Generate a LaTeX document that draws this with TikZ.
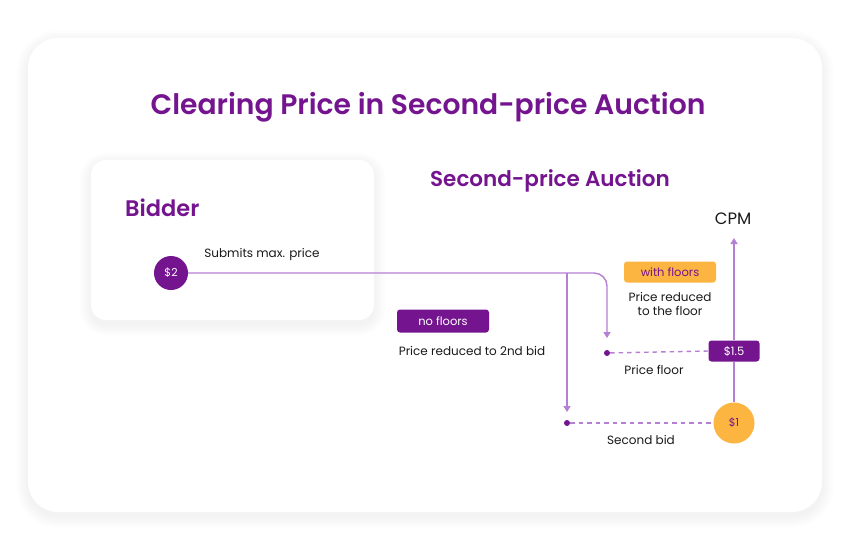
\documentclass[tikz,border=0pt]{standalone}
\usepackage{fontspec}
\setmainfont{Poppins}[BoldFont={Poppins SemiBold}]
\usetikzlibrary{arrows.meta}
\definecolor{pur}{HTML}{74148F}
\definecolor{lpur}{HTML}{B57FD3}
\definecolor{org}{HTML}{FBB540}
\definecolor{txt}{HTML}{1A1A1A}
\tikzset{
  lbl/.style={text=txt,font=\fontsize{12}{14.5}\selectfont,align=center,inner sep=0pt},
  conn/.style={draw=lpur,line width=1.4pt},
  dashln/.style={draw=lpur,line width=1.4pt,dash pattern=on 4.5pt off 4pt},
  tipend/.style={-{Triangle[length=6pt,width=7pt]}},
  dotn/.style={circle,fill=pur,inner sep=0pt,minimum size=6pt},
  pbox/.style={fill=pur,text=white,rounded corners=3pt,inner sep=0pt,font=\fontsize{11.5}{13}\selectfont},
  obox/.style={fill=org,text=pur,rounded corners=3pt,inner sep=0pt,font=\fontsize{11.5}{13}\selectfont},
}
\newcommand{\softcard}[5]{%
  \foreach \k in {1,...,12}{\fill[black,opacity=0.005,rounded corners=#5+\k] ({#1-\k},{#2-\k+4}) rectangle ({#3+\k},{#4+\k+4});}
  \fill[white,rounded corners=#5] (#1,#2) rectangle (#3,#4);}
\begin{document}
\begin{tikzpicture}[x=1pt,y=-1pt]
\useasboundingbox (0,0) rectangle (850,550);
\fill[white] (0,0) rectangle (850,550);
\softcard{28}{38}{822}{512}{30pt}
\node[text=pur,font=\fontsize{28.2}{32}\selectfont\bfseries] (title) at (428,107) {Clearing Price in Second-price Auction};
\softcard{91}{160}{374}{320}{15pt}
\node[text=pur,font=\fontsize{22.5}{27}\selectfont\bfseries,anchor=west,inner sep=0pt] (bidder) at (125,208) {Bidder};
\node[lbl] (submits) at (262,254) {Submits max. price};
\node[text=pur,font=\fontsize{21.5}{25}\selectfont\bfseries] (spa) at (550,181) {Second-price Auction};
\node[circle,fill=pur,minimum size=34pt,inner sep=0pt,text=white,font=\fontsize{11}{13}\selectfont] (bid) at (171,273) {\$2};
\coordinate (split) at (567,273);
\coordinate (corner) at (607,273);
\coordinate (a1) at (607,338);
\coordinate (a2) at (567,412);
\node[dotn] (d1) at (607,353) {};
\node[dotn] (d2) at (567,423) {};
\node[circle,fill=org,minimum size=41pt,inner sep=0pt,text=pur,font=\fontsize{11}{13}\selectfont] (one) at (734,423) {\$1};
\node[pbox,minimum width=51pt,minimum height=21pt] (onefive) at (734,351) {\$1.5};
\coordinate (top) at (734,238);
\node[text=txt,font=\fontsize{16.5}{20}\selectfont] (cpm) at (733,219) {CPM};
\draw[conn,rounded corners=13pt,tipend] (bid.east) -- (corner) -- (a1);
\draw[conn,tipend] (split) -- (a2);
\draw[dashln] (d1) -- (onefive.west);
\draw[dashln] (d2) -- (one.west);
\draw[conn] (one.north) -- (onefive.south);
\draw[conn,tipend] (onefive.north) -- (top);
\node[pbox,minimum width=92pt,minimum height=23pt] (nof) at (443,321) {no floors};
\node[lbl] (nofl) at (472,351) {Price reduced to 2nd bid};
\node[obox,minimum width=92pt,minimum height=21pt] (wf) at (670,272) {with floors};
\node[lbl] (wfl) at (670,304) {Price reduced\\to the floor};
\node[lbl] (pf) at (654,370) {Price floor};
\node[lbl] (sb) at (641,440) {Second bid};
\end{tikzpicture}
\end{document}
